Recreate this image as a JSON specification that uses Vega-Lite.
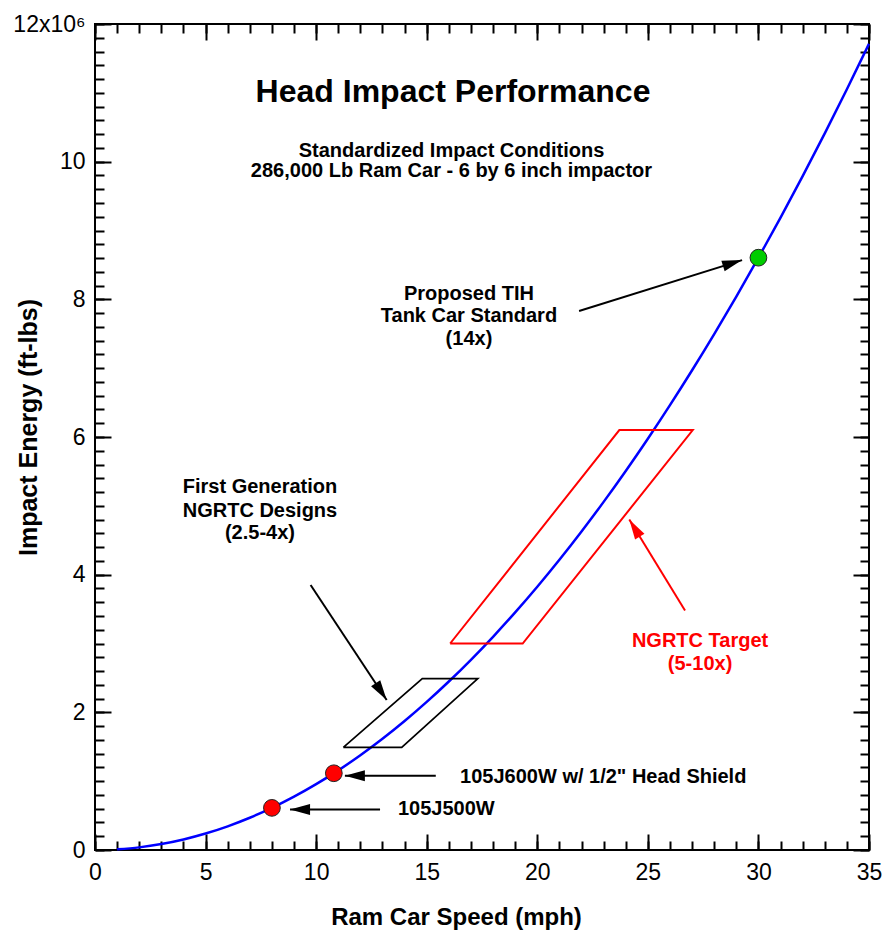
{
  "$schema": "https://vega.github.io/schema/vega-lite/v6.json",
  "autosize": {"type": "none"},
  "width": 774,
  "height": 826,
  "padding": {"left": 95, "top": 24, "right": 17, "bottom": 91},
  "background": "white",
  "config": {
    "font": "Liberation Sans",
    "view": {"stroke": "black", "strokeWidth": 2},
    "axis": {"labelColor": "black", "titleColor": "black", "tickColor": "black", "labelFont": "Liberation Sans", "titleFont": "Liberation Sans"},
    "text": {"font": "Liberation Sans"}
  },
  "datasets": {
    "curve": [
      {"speed": 1, "energy": 0.0096}, {"speed": 2, "energy": 0.0382}, {"speed": 3, "energy": 0.0860},
      {"speed": 4, "energy": 0.1530}, {"speed": 5, "energy": 0.2390}, {"speed": 6, "energy": 0.3442},
      {"speed": 7, "energy": 0.4685}, {"speed": 8, "energy": 0.6119}, {"speed": 9, "energy": 0.7744},
      {"speed": 10, "energy": 0.9561}, {"speed": 11, "energy": 1.1569}, {"speed": 12, "energy": 1.3768},
      {"speed": 13, "energy": 1.6158}, {"speed": 14, "energy": 1.8739}, {"speed": 15, "energy": 2.1512},
      {"speed": 16, "energy": 2.4476}, {"speed": 17, "energy": 2.7631}, {"speed": 18, "energy": 3.0977},
      {"speed": 19, "energy": 3.4514}, {"speed": 20, "energy": 3.8243}, {"speed": 21, "energy": 4.2163},
      {"speed": 22, "energy": 4.6274}, {"speed": 23, "energy": 5.0576}, {"speed": 24, "energy": 5.5070},
      {"speed": 25, "energy": 5.9755}, {"speed": 26, "energy": 6.4631}, {"speed": 27, "energy": 6.9698},
      {"speed": 28, "energy": 7.4957}, {"speed": 29, "energy": 8.0406}, {"speed": 30, "energy": 8.6047},
      {"speed": 31, "energy": 9.1879}, {"speed": 32, "energy": 9.7902}, {"speed": 33, "energy": 10.4117},
      {"speed": 34, "energy": 11.0523}, {"speed": 35, "energy": 11.7119}
    ],
    "designs": [
      {"design": "105J500W", "speed": 8, "energy": 0.612, "status": "existing"},
      {"design": "105J600W w/ 1/2\" Head Shield", "speed": 10.8, "energy": 1.115, "status": "existing"},
      {"design": "Proposed TIH Tank Car Standard", "speed": 30, "energy": 8.605, "status": "proposed"}
    ],
    "zones": [
      {"zone": "First Generation", "vertex": 1, "speed": 11.23, "energy": 1.49},
      {"zone": "First Generation", "vertex": 2, "speed": 13.87, "energy": 1.49},
      {"zone": "First Generation", "vertex": 3, "speed": 17.31, "energy": 2.49},
      {"zone": "First Generation", "vertex": 4, "speed": 14.8, "energy": 2.49},
      {"zone": "First Generation", "vertex": 5, "speed": 11.23, "energy": 1.49},
      {"zone": "NGRTC Target", "vertex": 1, "speed": 16.06, "energy": 3.0},
      {"zone": "NGRTC Target", "vertex": 2, "speed": 19.34, "energy": 3.0},
      {"zone": "NGRTC Target", "vertex": 3, "speed": 27.03, "energy": 6.1},
      {"zone": "NGRTC Target", "vertex": 4, "speed": 23.71, "energy": 6.1},
      {"zone": "NGRTC Target", "vertex": 5, "speed": 16.06, "energy": 3.0}
    ],
    "arrows": [
      {"id": "tih", "speed": 21.89, "energy": 7.83, "speed2": 29.26, "energy2": 8.57},
      {"id": "firstgen", "speed": 9.75, "energy": 3.85, "speed2": 13.19, "energy2": 2.18},
      {"id": "target", "speed": 26.68, "energy": 3.48, "speed2": 24.16, "energy2": 4.8},
      {"id": "j600", "speed": 15.41, "energy": 1.08, "speed2": 11.3, "energy2": 1.08},
      {"id": "j500", "speed": 12.89, "energy": 0.59, "speed2": 8.82, "energy2": 0.59}
    ],
    "notes": [
      {"group": "title", "text": "Head Impact Performance", "speed": 16.19, "energy": 10.867},
      {"group": "center", "text": "Standardized Impact Conditions", "speed": 16.12, "energy": 10.068},
      {"group": "center", "text": "286,000 Lb Ram Car - 6 by 6 inch impactor", "speed": 16.12, "energy": 9.778},
      {"group": "center", "text": "Proposed TIH", "speed": 16.91, "energy": 7.991},
      {"group": "center", "text": "Tank Car Standard", "speed": 16.91, "energy": 7.671},
      {"group": "center", "text": "(14x)", "speed": 16.91, "energy": 7.337},
      {"group": "center", "text": "First Generation", "speed": 7.46, "energy": 5.187},
      {"group": "center", "text": "NGRTC Designs", "speed": 7.46, "energy": 4.845},
      {"group": "center", "text": "(2.5-4x)", "speed": 7.46, "energy": 4.518},
      {"group": "target", "text": "NGRTC Target", "speed": 27.36, "energy": 2.949},
      {"group": "target", "text": "(5-10x)", "speed": 27.36, "energy": 2.615},
      {"group": "callout", "text": "105J600W w/ 1/2\" Head Shield", "speed": 16.51, "energy": 0.969},
      {"group": "callout", "text": "105J500W", "speed": 13.7, "energy": 0.508}
    ]
  },
  "resolve": {"axis": {"x": "independent", "y": "independent"}},
  "layer": [
    {
      "data": {"name": "curve"},
      "mark": {"type": "line", "color": "#0000ff", "strokeWidth": 2.5, "interpolate": "monotone"},
      "encoding": {
        "x": {
          "field": "speed", "type": "quantitative",
          "scale": {"domain": [0, 35], "nice": false, "zero": false},
          "axis": {
            "orient": "bottom", "values": [0, 5, 10, 15, 20, 25, 30, 35],
            "ticks": false, "domain": false, "grid": false,
            "labelFontSize": 23, "labelPadding": 11, "labelFlush": false, "labelOverlap": false, "labelBound": false,
            "title": "Ram Car Speed (mph)", "titleFontSize": 24, "titleFontWeight": "bold",
            "titleX": 361, "titleY": 67, "titleAlign": "center", "titleBaseline": "middle"
          }
        },
        "y": {
          "field": "energy", "type": "quantitative",
          "scale": {"domain": [0, 12], "nice": false, "zero": false},
          "axis": {
            "orient": "left", "values": [0, 2, 4, 6, 8, 10, 12],
            "ticks": false, "domain": false, "grid": false,
            "labelExpr": "datum.value == 12 ? '12x10⁶' : datum.label",
            "labelFontSize": 23, "labelPadding": 10, "labelFlush": false, "labelOverlap": false, "labelBound": false,
            "title": "Impact Energy (ft-lbs)", "titleFontSize": 25, "titleFontWeight": "bold",
            "titleAngle": -90, "titleX": -67, "titleY": 403, "titleAlign": "center", "titleBaseline": "middle"
          }
        }
      }
    },
    {
      "data": {"name": "zones"},
      "transform": [{"filter": "datum.zone == 'First Generation'"}],
      "mark": {"type": "line", "color": "black", "strokeWidth": 1.7},
      "encoding": {
        "x": {"field": "speed", "type": "quantitative",
          "axis": {"orient": "bottom", "values": [0, 5, 10, 15, 20, 25, 30, 35], "tickSize": -16, "tickWidth": 2, "labels": false, "domain": false, "grid": false, "title": null}},
        "y": {"field": "energy", "type": "quantitative",
          "axis": {"orient": "left", "values": [0, 2, 4, 6, 8, 10, 12], "tickSize": -16, "tickWidth": 2, "labels": false, "domain": false, "grid": false, "title": null}},
        "order": {"field": "vertex", "type": "quantitative"}
      }
    },
    {
      "data": {"name": "zones"},
      "transform": [{"filter": "datum.zone == 'NGRTC Target'"}],
      "mark": {"type": "line", "color": "#ff0000", "strokeWidth": 2},
      "encoding": {
        "x": {"field": "speed", "type": "quantitative",
          "axis": {"orient": "bottom", "values": [0,1,2,3,4,5,6,7,8,9,10,11,12,13,14,15,16,17,18,19,20,21,22,23,24,25,26,27,28,29,30,31,32,33,34,35], "tickSize": -9, "tickWidth": 2, "labels": false, "domain": false, "grid": false, "title": null}},
        "y": {"field": "energy", "type": "quantitative",
          "axis": {"orient": "left", "values": [0,0.2,0.4,0.6,0.8,1,1.2,1.4,1.6,1.8,2,2.2,2.4,2.6,2.8,3,3.2,3.4,3.6,3.8,4,4.2,4.4,4.6,4.8,5,5.2,5.4,5.6,5.8,6,6.2,6.4,6.6,6.8,7,7.2,7.4,7.6,7.8,8,8.2,8.4,8.6,8.8,9,9.2,9.4,9.6,9.8,10,10.2,10.4,10.6,10.8,11,11.2,11.4,11.6,11.8,12], "tickSize": -9, "tickWidth": 2, "labels": false, "domain": false, "grid": false, "title": null}},
        "order": {"field": "vertex", "type": "quantitative"}
      }
    },
    {
      "data": {"name": "arrows"},
      "transform": [{"filter": "datum.id != 'target'"}],
      "mark": {"type": "rule", "color": "black", "strokeWidth": 2},
      "encoding": {
        "x": {"field": "speed", "type": "quantitative",
          "axis": {"orient": "top", "values": [0, 5, 10, 15, 20, 25, 30, 35], "tickSize": -16, "tickWidth": 2, "labels": false, "domain": false, "grid": false, "title": null}},
        "y": {"field": "energy", "type": "quantitative",
          "axis": {"orient": "right", "values": [0, 2, 4, 6, 8, 10, 12], "tickSize": -16, "tickWidth": 2, "labels": false, "domain": false, "grid": false, "title": null}},
        "x2": {"field": "speed2"},
        "y2": {"field": "energy2"}
      }
    },
    {
      "data": {"name": "arrows"},
      "transform": [{"filter": "datum.id == 'target'"}],
      "mark": {"type": "rule", "color": "#ff0000", "strokeWidth": 2},
      "encoding": {
        "x": {"field": "speed", "type": "quantitative",
          "axis": {"orient": "top", "values": [0,1,2,3,4,5,6,7,8,9,10,11,12,13,14,15,16,17,18,19,20,21,22,23,24,25,26,27,28,29,30,31,32,33,34,35], "tickSize": -9, "tickWidth": 2, "labels": false, "domain": false, "grid": false, "title": null}},
        "y": {"field": "energy", "type": "quantitative",
          "axis": {"orient": "right", "values": [0,0.2,0.4,0.6,0.8,1,1.2,1.4,1.6,1.8,2,2.2,2.4,2.6,2.8,3,3.2,3.4,3.6,3.8,4,4.2,4.4,4.6,4.8,5,5.2,5.4,5.6,5.8,6,6.2,6.4,6.6,6.8,7,7.2,7.4,7.6,7.8,8,8.2,8.4,8.6,8.8,9,9.2,9.4,9.6,9.8,10,10.2,10.4,10.6,10.8,11,11.2,11.4,11.6,11.8,12], "tickSize": -9, "tickWidth": 2, "labels": false, "domain": false, "grid": false, "title": null}},
        "x2": {"field": "speed2"},
        "y2": {"field": "energy2"}
      }
    },
    {
      "data": {"name": "arrows"},
      "transform": [{"filter": "datum.id == 'j600' || datum.id == 'j500'"}],
      "mark": {"type": "point", "shape": "M0,0L-2,-0.55L-2,0.55Z", "size": 400, "filled": true, "color": "black", "opacity": 1, "angle": 180},
      "encoding": {
        "x": {"field": "speed2", "type": "quantitative", "axis": null},
        "y": {"field": "energy2", "type": "quantitative", "axis": null}
      }
    },
    {
      "data": {"name": "arrows"},
      "transform": [{"filter": "datum.id == 'tih'"}],
      "mark": {"type": "point", "shape": "M0,0L-2,-0.55L-2,0.55Z", "size": 400, "filled": true, "color": "black", "opacity": 1, "angle": 342.6},
      "encoding": {
        "x": {"field": "speed2", "type": "quantitative", "axis": null},
        "y": {"field": "energy2", "type": "quantitative", "axis": null}
      }
    },
    {
      "data": {"name": "arrows"},
      "transform": [{"filter": "datum.id == 'firstgen'"}],
      "mark": {"type": "point", "shape": "M0,0L-2,-0.55L-2,0.55Z", "size": 400, "filled": true, "color": "black", "opacity": 1, "angle": 56.5},
      "encoding": {
        "x": {"field": "speed2", "type": "quantitative", "axis": null},
        "y": {"field": "energy2", "type": "quantitative", "axis": null}
      }
    },
    {
      "data": {"name": "arrows"},
      "transform": [{"filter": "datum.id == 'target'"}],
      "mark": {"type": "point", "shape": "M0,0L-2,-0.55L-2,0.55Z", "size": 400, "filled": true, "color": "#ff0000", "opacity": 1, "angle": 238.4},
      "encoding": {
        "x": {"field": "speed2", "type": "quantitative", "axis": null},
        "y": {"field": "energy2", "type": "quantitative", "axis": null}
      }
    },
    {
      "data": {"name": "designs"},
      "mark": {"type": "point", "shape": "circle", "size": 280, "filled": true, "opacity": 1, "stroke": "#222222", "strokeWidth": 1},
      "encoding": {
        "x": {"field": "speed", "type": "quantitative", "axis": null},
        "y": {"field": "energy", "type": "quantitative", "axis": null},
        "fill": {"field": "status", "type": "nominal", "scale": {"domain": ["existing", "proposed"], "range": ["#ff0000", "#00cc00"]}, "legend": null}
      }
    },
    {
      "data": {"name": "notes"},
      "transform": [{"filter": "datum.group == 'title'"}],
      "mark": {"type": "text", "fontSize": 32, "fontWeight": "bold", "align": "center", "baseline": "alphabetic", "color": "black"},
      "encoding": {
        "x": {"field": "speed", "type": "quantitative", "axis": null},
        "y": {"field": "energy", "type": "quantitative", "axis": null},
        "text": {"field": "text"}
      }
    },
    {
      "data": {"name": "notes"},
      "transform": [{"filter": "datum.group == 'center'"}],
      "mark": {"type": "text", "fontSize": 20, "fontWeight": "bold", "align": "center", "baseline": "alphabetic", "color": "black"},
      "encoding": {
        "x": {"field": "speed", "type": "quantitative", "axis": null},
        "y": {"field": "energy", "type": "quantitative", "axis": null},
        "text": {"field": "text"}
      }
    },
    {
      "data": {"name": "notes"},
      "transform": [{"filter": "datum.group == 'target'"}],
      "mark": {"type": "text", "fontSize": 20, "fontWeight": "bold", "align": "center", "baseline": "alphabetic", "color": "#ff0000"},
      "encoding": {
        "x": {"field": "speed", "type": "quantitative", "axis": null},
        "y": {"field": "energy", "type": "quantitative", "axis": null},
        "text": {"field": "text"}
      }
    },
    {
      "data": {"name": "notes"},
      "transform": [{"filter": "datum.group == 'callout'"}],
      "mark": {"type": "text", "fontSize": 20, "fontWeight": "bold", "align": "left", "baseline": "alphabetic", "color": "black"},
      "encoding": {
        "x": {"field": "speed", "type": "quantitative", "axis": null},
        "y": {"field": "energy", "type": "quantitative", "axis": null},
        "text": {"field": "text"}
      }
    }
  ]
}
